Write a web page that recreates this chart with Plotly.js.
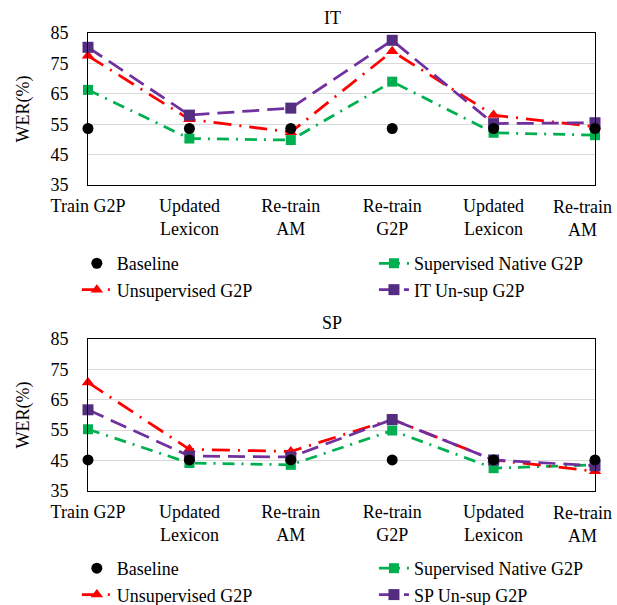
<!DOCTYPE html>
<html>
<head>
<meta charset="utf-8">
<script src="https://cdn.plot.ly/plotly-3.0.1.min.js"></script>
<style>
html,body{margin:0;padding:0;background:#fff;}
svg text{font-family:'Liberation Serif','Times New Roman',serif !important;}
</style>
</head>
<body>
<div id="chart"></div>
<script>
// ---- data ----
const categories = ["Train G2P", "Updated<br>Lexicon", "Re-train<br>AM", "Re-train<br>G2P", "Updated<br>Lexicon", "Re-train<br>AM"];
const yTicks = [35, 45, 55, 65, 75, 85];

const itBaseline     = [53.6, 53.6, 53.6, 53.6, 53.6, 53.6];
const itSupervised   = [66.3, 50.3, 49.8, 69.0, 52.2, 51.4];
const itUnsupervised = [77.5, 56.6, 52.4, 79.0, 58.0, 54.2];
const itUnsupIT      = [80.3, 58.0, 60.3, 82.6, 55.2, 55.5];

const spBaseline     = [45.2, 45.2, 45.2, 45.2, 45.2, 45.2];
const spSupervised   = [55.3, 44.2, 43.6, 54.9, 42.5, 43.6];
const spUnsupervised = [70.7, 48.7, 48.0, 58.6, 45.2, 41.5];
const spUnsupSP      = [61.7, 46.5, 46.2, 58.5, 45.2, 43.3];

// ---- styles ----
const SERIF = "Liberation Serif";
const FS = 18;
const GREEN = "#00B050", RED = "#FF0000", PURPLE = "#7030A0", PURPLE_M = "#542C80";

function txt() { return {family: SERIF, size: FS, color: "#000"}; }

function mk(x, y, name, kind, xa, ya, legend, rank) {
  const base = {x: x, y: y, name: name, xaxis: xa, yaxis: ya, legend: legend, legendrank: rank, cliponaxis: false};
  if (kind === "base") return Object.assign(base, {mode: "markers", marker: {symbol: "circle", size: 11, color: "#000"}});
  if (kind === "sup") return Object.assign(base, {mode: "lines+markers", line: {color: GREEN, width: 2.75, dash: "12px,7px,2px,7px"}, marker: {symbol: "square", size: 10, color: GREEN}});
  if (kind === "unsup") return Object.assign(base, {mode: "lines+markers", line: {color: RED, width: 2.75, dash: "18px,8px,2px,8px"}, marker: {symbol: "triangle-up", size: 11, color: RED}});
  return Object.assign(base, {mode: "lines+markers", line: {color: PURPLE, width: 2.75, dash: "17px,8px"}, marker: {symbol: "square", size: 11, color: PURPLE_M}});
}

const xIdx = categories.map((c, i) => i);
const last = categories.length - 1;
// the last label is drawn as an annotation so it can sit inside the figure, as in the reference
const tickText = categories.map((c, i) => (i === last ? "" : c));

// draw order: green, red, purple, black on top
const traces = [
  mk(xIdx, itSupervised, "Supervised Native G2P", "sup", "x", "y", "legend2", 1),
  mk(xIdx, itUnsupervised, "Unsupervised G2P", "unsup", "x", "y", "legend", 2),
  mk(xIdx, itUnsupIT, "IT Un-sup G2P", "it", "x", "y", "legend2", 2),
  mk(xIdx, itBaseline, "Baseline", "base", "x", "y", "legend", 1),
  mk(xIdx, spSupervised, "Supervised Native G2P", "sup", "x2", "y2", "legend4", 1),
  mk(xIdx, spUnsupervised, "Unsupervised G2P", "unsup", "x2", "y2", "legend3", 2),
  mk(xIdx, spUnsupSP, "SP Un-sup G2P", "it", "x2", "y2", "legend4", 2),
  mk(xIdx, spBaseline, "Baseline", "base", "x2", "y2", "legend3", 1)
];

function xAxis(anchor) {
  return {
    anchor: anchor, range: [0, 5], tickmode: "array", tickvals: xIdx, ticktext: tickText,
    showgrid: false, zeroline: false, showline: true, mirror: true, linecolor: "#000", linewidth: 1,
    ticks: "", ticklabelstandoff: 4, ticklabeloverflow: "allow", tickangle: 0, automargin: false,
    tickfont: txt(), fixedrange: true
  };
}
function yAxis(anchor, domain) {
  return {
    anchor: anchor, domain: domain, range: [35, 85], tickmode: "array", tickvals: yTicks,
    showgrid: true, gridcolor: "#D9D9D9", gridwidth: 1, zeroline: false,
    showline: true, mirror: true, linecolor: "#000", linewidth: 1, automargin: false,
    ticks: "", ticklabelstandoff: 15, tickfont: txt(),
    title: {text: "WER(%)", standoff: 16, font: txt()}
  };
}

function legendAt(x, y) {
  return {x: x, y: y, xanchor: "left", yanchor: "top", orientation: "v",
          bgcolor: "rgba(0,0,0,0)", font: txt(), itemwidth: 30, tracegroupgap: 0, traceorder: "normal"};
}

function lastLabel(xa, ya) {
  return {text: categories[last], xref: xa, yref: ya + " domain", x: last, y: 0, yanchor: "top", xanchor: "center",
          xshift: -13, yshift: -10, showarrow: false, align: "center", font: txt()};
}

const layout = {
  width: 617, height: 605,
  margin: {l: 88, r: 22, t: 33, b: 114, autoexpand: false},
  paper_bgcolor: "#fff", plot_bgcolor: "#fff",
  font: txt(),
  xaxis: xAxis("y"),
  yaxis: yAxis("x", [0.668, 1]),
  xaxis2: xAxis("y2"),
  yaxis2: yAxis("x2", [0, 0.332]),
  showlegend: true,
  legend: legendAt(-0.022, 0.537),
  legend2: legendAt(0.564, 0.537),
  legend3: legendAt(-0.022, -0.1288),
  legend4: legendAt(0.564, -0.1288),
  annotations: [
    {text: "IT", xref: "paper", yref: "paper", x: 0.483, y: 1, yshift: 15, yanchor: "middle", showarrow: false, font: txt()},
    {text: "SP", xref: "paper", yref: "paper", x: 0.481, y: 0.332, yshift: 16, yanchor: "middle", showarrow: false, font: txt()},
    lastLabel("x", "y"),
    lastLabel("x2", "y2")
  ]
};

Plotly.newPlot("chart", traces, layout, {displayModeBar: false});
</script>
</body>
</html>
